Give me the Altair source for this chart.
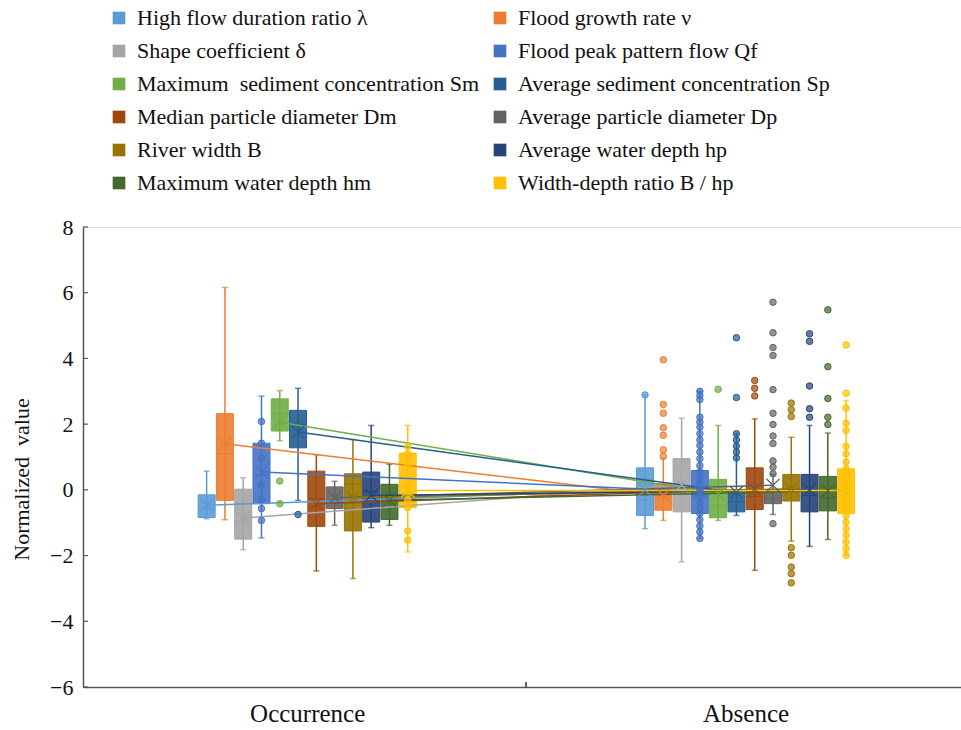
import altair as alt
import pandas as pd

# ---------------- data ----------------
variables = [
    "High flow duration ratio λ", "Flood growth rate ν",
    "Shape coefficient δ", "Flood peak pattern flow Qf",
    "Maximum\u00a0 sediment concentration Sm", "Average sediment concentration Sp",
    "Median particle diameter Dm", "Average particle diameter Dp",
    "River width B", "Average water depth hp",
    "Maximum water depth hm", "Width-depth ratio B / hp",
]
colors = ["#5B9BD5", "#ED7D31", "#A5A5A5", "#4472C4", "#70AD47", "#255E91",
          "#9E480E", "#636363", "#997300", "#264478", "#43682B", "#FFC000"]
groups = ["Occurrence", "Absence"]

# Occurrence box statistics
occ_low = [-0.88, -0.91, -1.82, -1.46, 1.50, -0.32, -2.47, -1.08, -2.70, -1.15, -1.08, -1.89]
occ_q1 = [-0.84, -0.32, -1.50, -0.42, 1.79, 1.28, -1.11, -0.57, -1.25, -0.98, -0.90, -0.54]
occ_med = [-0.55, 1.10, -0.98, 0.45, 2.32, 2.00, -0.27, -0.30, 0.17, -0.05, -0.30, -0.10]
occ_q3 = [-0.15, 2.32, 0.02, 1.42, 2.77, 2.42, 0.57, 0.09, 0.49, 0.54, 0.17, 1.12]
occ_high = [0.57, 6.16, 0.37, 2.85, 3.02, 3.09, 1.07, 0.26, 1.53, 1.96, 0.78, 1.96]
occ_mean = [-0.47, 1.40, -0.86, 0.54, 2.06, 1.76, -0.42, -0.24, -0.24, -0.17, -0.32, -0.02]

# Absence box statistics
abs_low = [-1.18, -0.93, -2.19, -1.48, -0.93, -0.78, -2.45, -0.75, -1.56, -1.72, -1.51, -1.99]
abs_q1 = [-0.78, -0.62, -0.67, -0.72, -0.85, -0.67, -0.60, -0.42, -0.34, -0.67, -0.64, -0.72]
abs_med = [-0.32, -0.22, -0.07, -0.15, -0.47, -0.37, -0.20, -0.25, 0.04, -0.17, -0.24, -0.05]
abs_q3 = [0.67, 0.19, 0.95, 0.59, 0.32, -0.07, 0.67, -0.05, 0.47, 0.47, 0.41, 0.64]
abs_high = [2.89, 0.95, 2.18, 3.00, 1.96, 1.71, 2.16, 0.47, 1.60, 1.96, 1.73, 2.72]
abs_mean = [0.00, -0.17, 0.15, -0.05, -0.12, -0.08, 0.02, 0.14, 0.03, 0.00, -0.03, -0.02]

# Individual points (inner points and outliers)
occ_points = {
    3: [2.08, 1.42, 0.98, 0.14, -0.30, -0.57, -0.93],
    4: [0.27, -0.42],
    5: [-0.75],
    11: [1.32, 1.10, 0.74, 0.17, -0.12, -0.32, -0.54, -1.25, -1.53],
}
abs_points = {
    0: [2.89],
    1: [3.96, 2.60, 2.33, 1.89, 1.66, 1.22, 1.02],
    3: [3.00, 2.87, 2.75, 2.21, 2.06, 1.91, 1.71, 1.52, 1.35, 1.15, 0.95, 0.74,
        0.55, 0.37, 0.18, -0.01, -0.20, -0.38, -0.56,
        -0.72, -0.91, -1.10, -1.28, -1.48],
    4: [3.06],
    5: [4.63, 2.81, 1.71, 1.52, 1.33, 1.15, 0.97],
    6: [3.33, 3.09, 2.86],
    7: [5.71, 4.78, 4.33, 4.09, 3.05, 2.33, 1.99, 1.64, 1.41, 0.88, 0.69, 0.49, -1.03],
    8: [2.64, 2.44, 2.23, -1.76, -1.99, -2.35, -2.55, -2.83],
    9: [4.75, 4.52, 3.16, 2.47, 2.21],
    10: [5.48, 3.75, 2.78, 2.21, 1.99],
    11: [4.41, 2.94, 2.49, 2.03, 1.81, 1.33, 1.10, 0.85, 0.64, 0.44, 0.24, 0.04,
         -0.17, -0.37, -0.57, -0.78, -0.98, -1.18, -1.38, -1.59, -1.79, -1.99],
}

y_ticks = [-6, -4, -2, 0, 2, 4, 6, 8]

# ---------------- tables ----------------
box_rows = []
stats = [
    (occ_low, occ_q1, occ_med, occ_q3, occ_high, occ_mean),
    (abs_low, abs_q1, abs_med, abs_q3, abs_high, abs_mean),
]
for gi, g in enumerate(groups):
    lo, q1, md, q3, hi, mn = stats[gi]
    for vi, v in enumerate(variables):
        box_rows.append(dict(var=v, group=g, gi=gi, vi=vi, lo=lo[vi], q1=q1[vi],
                             med=md[vi], q3=q3[vi], hi=hi[vi], mean=mn[vi]))
boxes = pd.DataFrame(box_rows)

pt_rows = []
for gi, pts in enumerate([occ_points, abs_points]):
    for vi, vals in pts.items():
        for val in vals:
            pt_rows.append(dict(var=variables[vi], group=groups[gi], gi=gi, vi=vi, value=val))
points = pd.DataFrame(pt_rows)

ticks_df = pd.DataFrame({"t": y_ticks})

# legend is filled column by column: list even-indexed entries first
legend_order = variables[0::2] + variables[1::2]
legend_colors = colors[0::2] + colors[1::2]

# ---------------- encodings ----------------
FONT = "Liberation Serif, Times New Roman, DejaVu Serif, serif"
W, H = 878, 460
pos_expr = "datum.gi + (datum.vi - 5.5) * 0.0417"

xscale = alt.Scale(domain=[-0.5, 1.48], nice=False, zero=False)
yscale = alt.Scale(domain=[-6, 8], nice=False, zero=False)
cscale = alt.Scale(domain=legend_order, range=legend_colors)

xaxis = alt.Axis(values=[0, 1], title=None, ticks=False, grid=False,
                 labelExpr="datum.value == 0 ? 'Occurrence' : 'Absence'",
                 labelFontSize=25, labelPadding=14, labelFont=FONT,
                 labelColor="#111111", domainColor="#555555", domainWidth=1.5)
yaxis = alt.Axis(values=y_ticks, ticks=False, grid=False, labelFontSize=22,
                 labelPadding=10, labelFont=FONT, labelColor="#111111",
                 domainColor="#555555", domainWidth=1.5,
                 title="Normalized\u00a0 value", titleFont=FONT,
                 titleFontSize=22, titleFontWeight="normal", titleColor="#111111",
                 titleX=-50, titleY=252)
legend = alt.Legend(title=None, orient="none", legendX=25, legendY=-220,
                    columns=2, symbolType="square", symbolSize=160,
                    symbolStrokeWidth=0, symbolOpacity=1,
                    labelFont=FONT, labelFontSize=22, labelColor="#111111",
                    labelLimit=600, labelOffset=7, rowPadding=11,
                    columnPadding=9)

Xq = alt.X("pos:Q", scale=xscale, axis=xaxis)
def Yq(f):
    return alt.Y(f, scale=yscale, axis=yaxis)
C = alt.Color("var:N", scale=cscale, legend=legend)

base = alt.Chart(boxes).transform_calculate(pos=pos_expr)

whiskers = base.mark_rule(strokeWidth=1.5).encode(
    x=Xq, y=Yq("lo:Q"), y2="hi:Q", color=C)

caps = base.transform_fold(["lo", "hi"], as_=["k", "v"]).mark_tick(
    orient="horizontal", size=6, thickness=1.5).encode(
    x=Xq, y=Yq("v:Q"), color=C)

bars = base.mark_bar(size=17, fillOpacity=0.9).encode(
    x=Xq, y=Yq("q1:Q"), y2="q3:Q", color=C)

bar_edges = base.mark_bar(size=17, filled=False, strokeWidth=1).encode(
    x=Xq, y=Yq("q1:Q"), y2="q3:Q", color=C)

medians = base.mark_tick(orient="horizontal", size=17, thickness=1.2).encode(
    x=Xq, y=Yq("med:Q"), color=C)

lines = base.mark_line(strokeWidth=1.5).encode(
    x=Xq, y=Yq("mean:Q"), detail="var:N", color=C, order="gi:Q")

means = base.mark_point(shape="M-1,-1L1,1M-1,1L1,-1", filled=False, size=170,
                        strokeWidth=1.2, opacity=1).encode(
    x=Xq, y=Yq("mean:Q"), color=C)

pbase = alt.Chart(points).transform_calculate(pos=pos_expr)
pts_fill = pbase.mark_point(shape="circle", filled=True, size=42, opacity=0.7).encode(
    x=Xq, y=Yq("value:Q"), color=C)
pts_edge = pbase.mark_point(shape="circle", filled=False, size=42, strokeWidth=1,
                            opacity=1).encode(
    x=Xq, y=Yq("value:Q"), color=C)

ytick_marks = alt.Chart(ticks_df).mark_rule(color="#555555", strokeWidth=1.2).encode(
    y=Yq("t:Q"), x=alt.value(0), x2=alt.value(5))

xtick_mark = alt.Chart(ticks_df).mark_rule(color="#555555", strokeWidth=1.2).encode(
    x=alt.X(datum=0.5, scale=xscale, axis=xaxis), y=alt.value(H), y2=alt.value(H - 5))

chart = alt.layer(
    whiskers, caps, bars, bar_edges, medians, lines, means, pts_fill, pts_edge,
    ytick_marks, xtick_mark
).properties(
    width=W, height=H,
    autosize=alt.AutoSizeParams(type="none"),
    padding={"left": 83, "top": 227, "right": 0, "bottom": 43},
).configure_view(stroke=None).configure(font=FONT, background="white")

chart.save("out.html", embed_options={"renderer": "svg", "actions": False})
